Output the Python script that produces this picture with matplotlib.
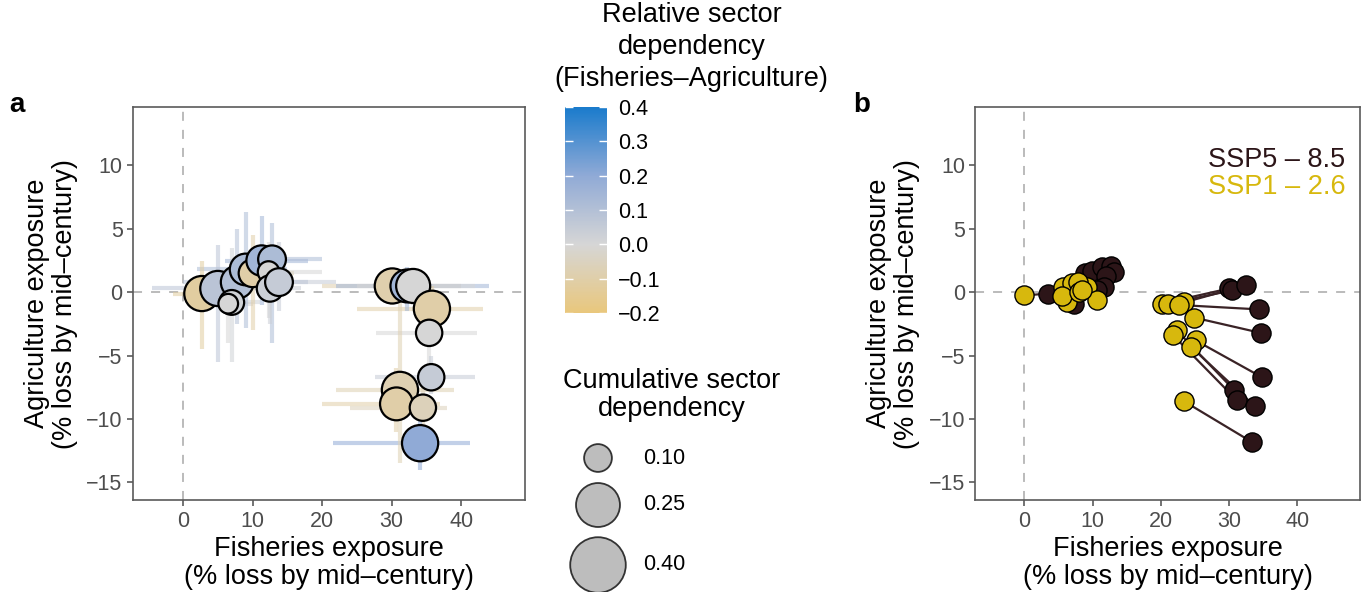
import numpy as np
import matplotlib.pyplot as plt
from matplotlib.colors import LinearSegmentedColormap, Normalize
from matplotlib.cm import ScalarMappable

plt.rcParams['font.family'] = ['Liberation Sans', 'DejaVu Sans']

# panel a: country positions (SSP5-8.5), error ranges, dependencies
fish_a = [2.7, 5.0, 7.8, 9.0, 10.0, 11.3, 12.8, 12.3, 12.5, 13.8, 7.0, 6.5,
          30.1, 32.2, 33.1, 35.8, 35.4, 35.7, 31.2, 30.7, 34.5, 34.1]
agri_a = [-0.1, 0.3, 0.8, 1.8, 1.5, 2.5, 2.6, 1.6, 0.3, 0.8, -0.8, -0.9,
          0.5, 0.5, 0.5, -1.3, -3.2, -6.7, -7.7, -8.8, -9.1, -11.9]
fish_lo = [-1.5, -4.5, 0.0, 2.0, 4.0, 6.0, 8.0, 6.0, 8.0, 9.0, 3.0, 2.0,
           20.0, 22.0, 25.0, 25.0, 27.8, 27.6, 22.0, 20.0, 24.0, 21.6]
fish_hi = [8.0, 10.0, 18.0, 15.0, 16.0, 18.0, 20.0, 20.0, 17.0, 22.0, 11.0, 10.0,
           40.0, 44.0, 42.0, 43.2, 42.3, 42.0, 39.0, 37.0, 38.0, 41.3]
agri_lo = [-4.5, -5.5, -2.5, -2.8, -3.0, -1.0, -4.0, -2.0, -2.5, -1.5, -5.5, -4.0,
           -1.0, -1.5, -1.0, -2.0, -6.0, -8.0, -13.5, -11.0, -11.0, -14.0]
agri_hi = [2.5, 3.7, 5.0, 6.3, 4.5, 6.0, 5.5, 4.0, 3.0, 4.0, 3.5, 1.5,
           1.5, 2.0, 1.5, 0.5, -1.0, -5.0, 1.0, -6.0, -7.0, -10.0]
rel_dep = [-0.12, 0.08, 0.10, 0.12, -0.10, 0.15, 0.12, 0.0, 0.03, 0.05, 0.02, 0.0,
           -0.09, 0.15, 0.0, -0.10, 0.0, 0.05, -0.08, -0.10, -0.06, 0.20]
cum_dep = [0.16, 0.16, 0.14, 0.13, 0.10, 0.12, 0.10, 0.06, 0.09, 0.10, 0.08, 0.05,
           0.16, 0.14, 0.15, 0.17, 0.09, 0.09, 0.17, 0.14, 0.09, 0.17]

# panel b: SSP1-2.6 and SSP5-8.5 positions per country
ssp1_fish = [20.1, 21.1, 23.4, 22.6, 24.9, 25.1, 22.3, 21.8, 24.4, 23.4,
             0.0, 6.1, 5.6, 7.0, 9.2, 10.6, 7.9, 6.3, 5.5, 8.0, 8.5]
ssp1_agri = [-0.9, -0.9, -0.8, -1.0, -2.0, -3.8, -3.0, -3.4, -4.3, -8.6,
             -0.25, -0.1, 0.4, 0.7, 0.4, -0.6, 0.8, -0.8, -0.3, 0.0, 0.2]
ssp5_fish = [30.0, 30.4, 32.4, 34.4, 34.6, 34.8, 30.7, 31.1, 33.8, 33.3,
             3.5, 8.9, 9.9, 11.3, 12.7, 13.1, 12.0, 7.2, 6.1, 11.7, 10.7]
ssp5_agri = [0.3, 0.15, 0.55, -1.35, -3.2, -6.7, -7.7, -8.5, -9.0, -11.8,
             -0.1, 1.5, 1.7, 2.0, 2.1, 1.6, 1.3, -0.9, -0.4, 0.4, 0.15]

size_keys = [0.10, 0.25, 0.40]
cbar_ticks = [-0.2, -0.1, 0.0, 0.1, 0.2, 0.3, 0.4]

dark = '#2c1518'
yellow = '#d7b80d'
frame_col = '#5a5a5a'
tick_col = '#4d4d4d'
big = 19.5
small = 15.5

cmap = LinearSegmentedColormap.from_list(
    'dep', [(0, '#e9c77c'), (1 / 3, '#d6d6d6'), (2 / 3, '#90aad6'), (1, '#1a7bcc')])
norm = Normalize(-0.2, 0.4)
size_scale = 4000  # points^2 per unit of cumulative dependency

fig = plt.figure(figsize=(13.67, 5.92), dpi=100)
ax_a = fig.add_axes([0.0973, 0.155, 0.2868, 0.664])
ax_b = fig.add_axes([0.7135, 0.155, 0.2815, 0.664])


def style(ax):
    ax.set_xlim(-7.2, 49.2)
    ax.set_ylim(-16.4, 14.6)
    ax.set_xticks([0, 10, 20, 30, 40])
    ax.set_yticks([-15, -10, -5, 0, 5, 10])
    ax.axhline(0, color='#b5b5b5', ls=(0, (5, 5)), lw=1.3, zorder=0)
    ax.axvline(0, color='#b5b5b5', ls=(0, (5, 5)), lw=1.3, zorder=0)
    for s in ax.spines.values():
        s.set_color(frame_col)
        s.set_linewidth(1.2)
    ax.tick_params(labelsize=small, colors=tick_col, length=4, width=1.1)
    ax.set_xlabel('Fisheries exposure\n(% loss by mid\u2013century)', fontsize=big,
                  linespacing=1.1, labelpad=3)
    ax.set_ylabel('Agriculture exposure\n(% loss by mid\u2013century)', fontsize=big,
                  linespacing=1.1, labelpad=6)


style(ax_a)
style(ax_b)

# panel a
cols = cmap(norm(np.array(rel_dep)))
ax_a.hlines(agri_a, fish_lo, fish_hi, colors=cols, lw=3, alpha=0.55, zorder=1)
ax_a.vlines(fish_a, agri_lo, agri_hi, colors=cols, lw=3, alpha=0.55, zorder=1)
ax_a.scatter(fish_a, agri_a, s=size_scale * np.array(cum_dep), c=rel_dep,
             cmap=cmap, norm=norm, edgecolors='black', linewidths=1.6, zorder=3)

# panel b
for x1, y1, x5, y5 in zip(ssp1_fish, ssp1_agri, ssp5_fish, ssp5_agri):
    ax_b.plot([x1, x5], [y1, y5], color='#3a2326', lw=1.6, zorder=1)
ax_b.scatter(ssp5_fish, ssp5_agri, s=190, color=dark, edgecolors='black',
             linewidths=1.0, zorder=2)
ax_b.scatter(ssp1_fish, ssp1_agri, s=190, color=yellow, edgecolors='black',
             linewidths=1.0, zorder=3)
ax_b.text(0.962, 0.865, 'SSP5 \u2013 8.5', color=dark, fontsize=big,
          ha='right', va='center', transform=ax_b.transAxes)
ax_b.text(0.962, 0.796, 'SSP1 \u2013 2.6', color=yellow, fontsize=big,
          ha='right', va='center', transform=ax_b.transAxes)

# panel letters
fig.text(0.007, 0.80, 'a', fontsize=20, fontweight='bold', va='bottom')
fig.text(0.624, 0.80, 'b', fontsize=20, fontweight='bold', va='bottom')

# colour bar
cax = fig.add_axes([0.4133, 0.471, 0.0307, 0.348])
cb = fig.colorbar(ScalarMappable(norm=norm, cmap=cmap), cax=cax, ticks=cbar_ticks)
cb.outline.set_visible(False)
cax.tick_params(which='both', left=True, right=True, direction='in', color='white',
                length=6, width=1, labelsize=small, pad=8)
cax.set_yticklabels(['\u22120.2', '\u22120.1', '0.0', '0.1', '0.2', '0.3', '0.4'])
fig.text(0.506, 0.997, 'Relative sector\ndependency\n(Fisheries\u2013Agriculture)',
         ha='center', va='top', fontsize=big, linespacing=1.3)

# size legend drawn in a blank overlay axes (pixel layout)
lax = fig.add_axes([0, 0, 1, 1], zorder=-1)
lax.set_xlim(0, 1367)
lax.set_ylim(592, 0)
lax.axis('off')
key_y = [458, 505, 565]
lax.scatter([598] * 3, key_y, s=size_scale * np.array(size_keys), color='#bdbdbd',
            edgecolors='#333333', linewidths=1.3, clip_on=False)
for v, yy in zip(size_keys, key_y):
    lax.text(643, yy, '%.2f' % v, fontsize=small, va='center', ha='left')
lax.text(672, 368, 'Cumulative sector\ndependency', fontsize=big, ha='center',
         va='top', linespacing=1.1)

fig.savefig('out.png', dpi=100)
